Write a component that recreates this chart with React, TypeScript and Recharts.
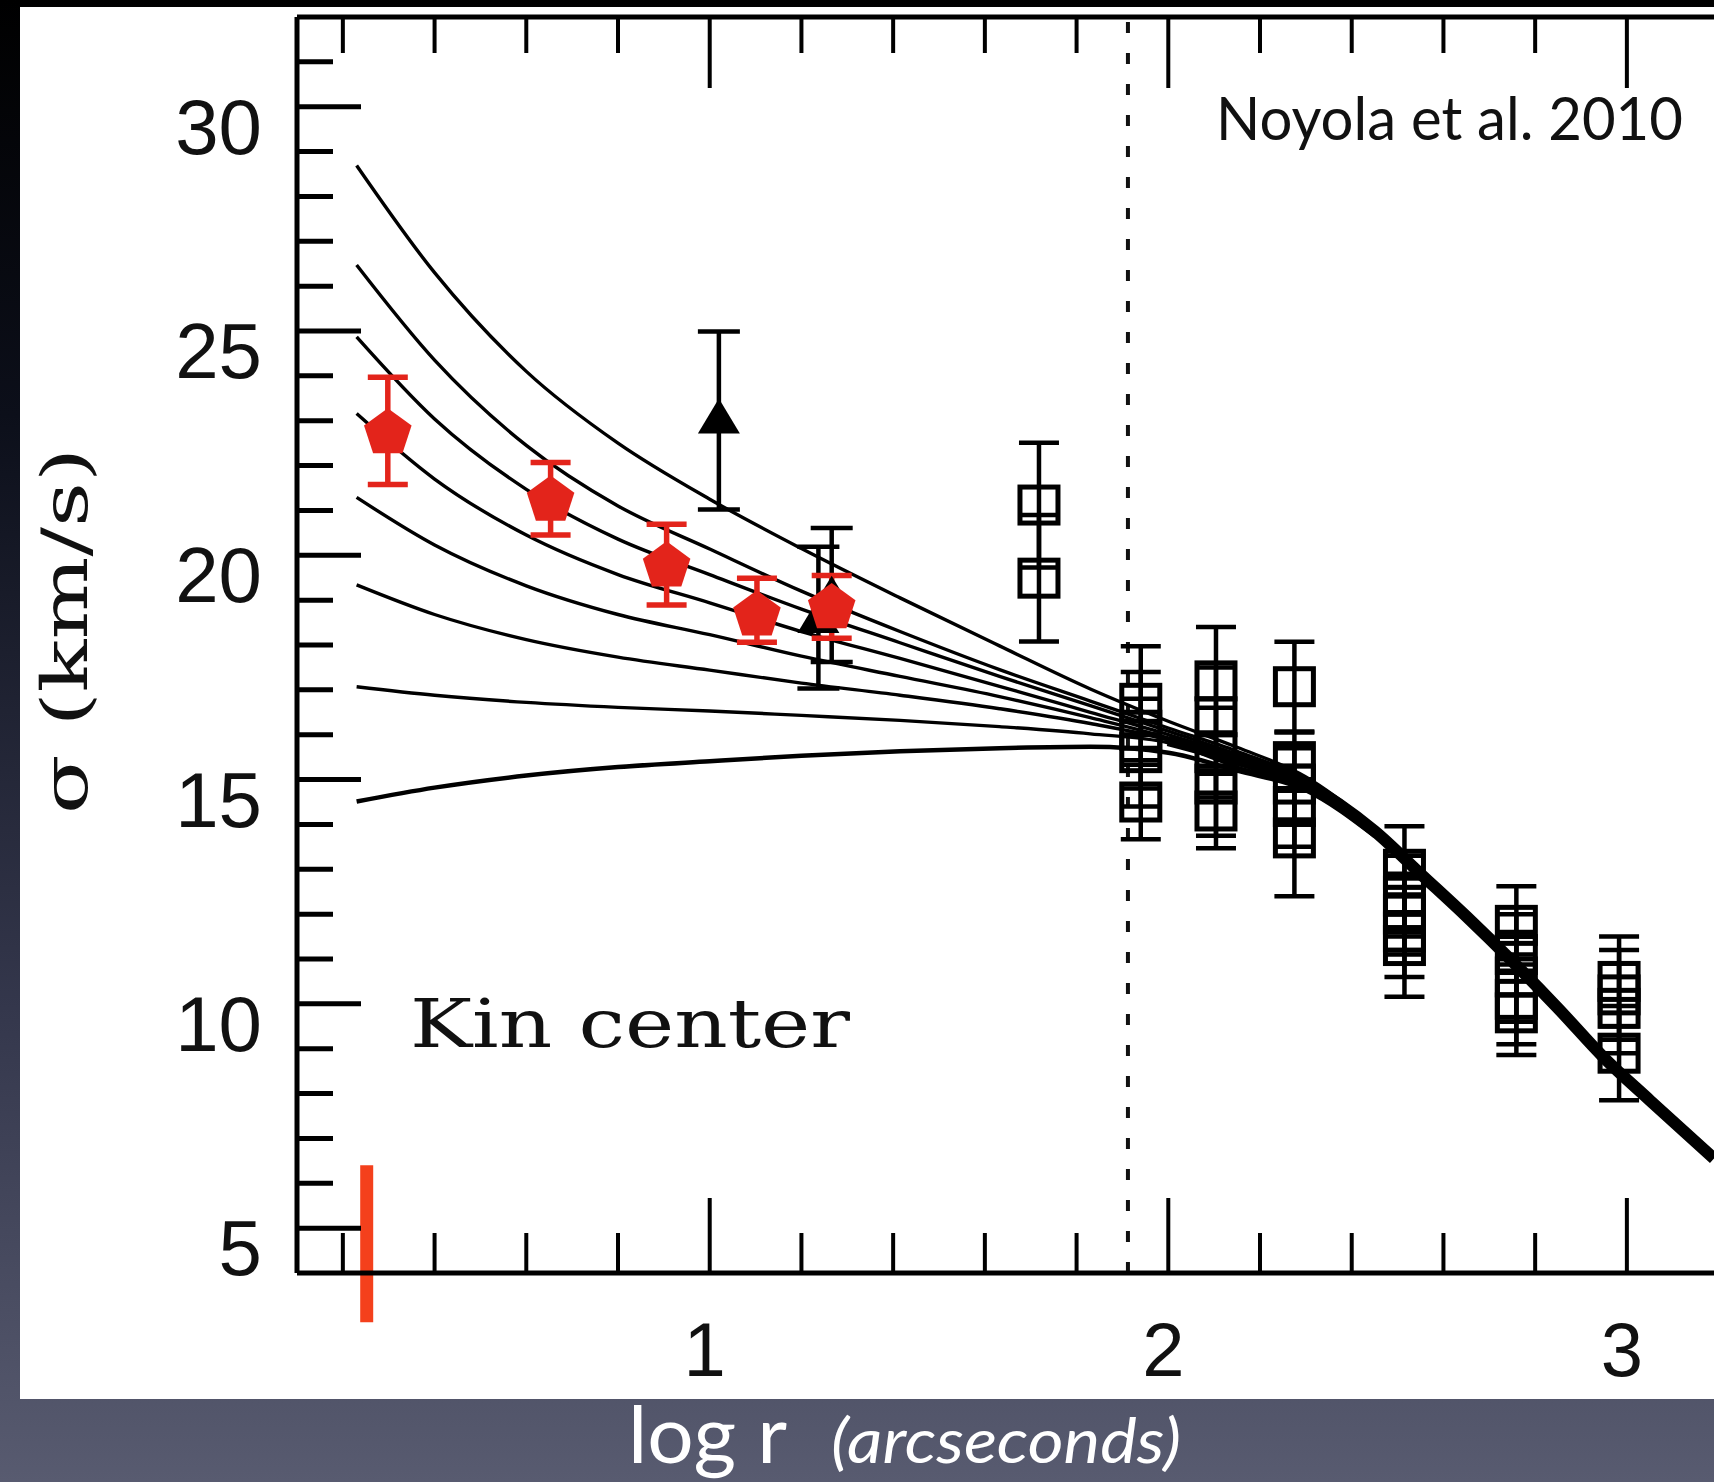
import React from "react";
import { ComposedChart, Line, Scatter, XAxis, YAxis, ErrorBar, ReferenceLine } from "recharts";

// --- model curves (sigma in km/s vs log r) ---
const curveX = [0.23, 0.4, 0.6, 0.8, 1.0, 1.2, 1.415, 1.632, 1.83, 2.0, 2.15, 2.3, 2.45];
const model1 = [28.69, 26.3, 24.1, 22.5, 21.25, 20.15, 19.05, 17.98, 17.02, 16.3, 15.72, 15.06, 13.95];
const model2 = [26.47, 24.35, 22.45, 21.1, 20.14, 19.2, 18.3, 17.45, 16.75, 16.15, 15.63, 15.01, 13.92];
const model3 = [24.87, 23.04, 21.47, 20.36, 19.57, 18.8, 18.05, 17.3, 16.65, 16.08, 15.56, 14.97, 13.89];
const model4 = [23.16, 21.7, 20.45, 19.57, 18.94, 18.3, 17.7, 17.08, 16.5, 16.0, 15.49, 14.93, 13.86];
const model5 = [21.29, 20.23, 19.32, 18.68, 18.23, 17.75, 17.3, 16.85, 16.38, 15.93, 15.42, 14.89, 13.83];
const model6 = [19.34, 18.68, 18.12, 17.73, 17.44, 17.15, 16.88, 16.58, 16.25, 15.88, 15.35, 14.85, 13.8];
const model7 = [17.07, 16.88, 16.72, 16.61, 16.53, 16.43, 16.32, 16.18, 16.02, 15.82, 15.28, 14.81, 13.77];
const model8 = [14.51, 14.82, 15.09, 15.28, 15.41, 15.53, 15.63, 15.7, 15.73, 15.6, 15.2, 14.76, 13.74];

// all models merge into one outer profile
const tailX = [2.0, 2.15, 2.3, 2.45, 2.55, 2.65, 2.75, 2.85, 2.95, 3.05, 3.19];
const tailY = [15.88, 15.45, 14.9, 13.85, 12.9, 11.95, 10.95, 9.9, 8.8, 7.85, 6.55];

// open squares (ground based)
const sqX = [1.718, 1.718, 1.94, 1.94, 1.94, 1.94, 2.104, 2.104, 2.104, 2.104, 2.104,
  2.275, 2.275, 2.275, 2.275, 2.275, 2.515, 2.515, 2.515, 2.515, 2.515,
  2.759, 2.759, 2.759, 2.759, 2.759, 2.983, 2.983, 2.983, 2.983];
const sqY = [21.12, 19.49, 16.7, 16.1, 15.6, 14.5, 17.2, 16.4, 15.6, 14.9, 14.3,
  17.07, 15.4, 14.9, 14.4, 13.7, 13.0, 12.4, 12.0, 11.6, 11.3,
  11.75, 11.1, 10.6, 10.1, 9.8, 10.5, 10.2, 9.9, 8.9];
const sqErr = [1.39, 1.41, 1.27, 1.3, 1.2, 0.83, 1.2, 1.1, 1.0, 1.15, 0.83,
  1.0, 0.65, 0.8, 0.9, 1.3, 0.96, 0.9, 0.9, 1.0, 1.14,
  0.87, 0.9, 1.0, 1.0, 0.94, 1.0, 1.0, 1.0, 1.05];

// red pentagons
const penX = [0.298, 0.653, 0.906, 1.103, 1.266];
const penY = [22.79, 21.29, 19.82, 18.73, 18.89];
const penLo = [1.21, 0.84, 0.93, 0.67, 0.74];
const penHi = [1.18, 0.78, 0.87, 0.76, 0.66];

// black triangles
const triX = [1.237, 1.266, 1.02];
const triY = [18.6, 19.1, 23.05];
const triLo = [1.57, 1.48, 2.03];
const triHi = [1.59, 1.51, 1.94];

const yTicks = [5, 6, 7, 8, 9, 10, 11, 12, 13, 14, 15, 16, 17, 18, 19, 20, 21, 22, 23, 24, 25, 26, 27, 28, 29, 30, 31];
const xTicks = [0.2, 0.4, 0.6, 0.8, 1, 1.2, 1.4, 1.6, 1.8, 2, 2.2, 2.4, 2.6, 2.8, 3];

const dividerX = 1.912;
const markX = 0.252;
const markY = [2.9, 6.4];

const models = [model1, model2, model3, model4, model5, model6, model7, model8];
const pts = (xs: number[], ys: number[]) => xs.map((x, i) => ({ x, y: ys[i] }));
const sqData = sqX.map((x, i) => ({ x, y: sqY[i], err: sqErr[i] }));
const penData = penX.map((x, i) => ({ x, y: penY[i], err: [penLo[i], penHi[i]] }));
const triData = triX.map((x, i) => ({ x, y: triY[i], err: [triLo[i], triHi[i]] }));

const isMajorX = (v: number) => Math.abs(v - Math.round(v)) < 1e-6;

const YTick = (p: any) => {
  const v = p.payload.value;
  const major = v % 5 === 0;
  return (
    <g>
      <line x1={p.x} y1={p.y} x2={p.x + (major ? 64 : 36)} y2={p.y} stroke="#000" strokeWidth={5} />
      {major && (
        <text x={p.x - 35} y={p.y + 20} textAnchor="end" dominantBaseline="central"
          fontFamily="Liberation Sans" fontSize={78} fill="#111">{v}</text>
      )}
    </g>
  );
};

const XTickBottom = (p: any) => {
  const v = p.payload.value;
  const major = isMajorX(v);
  return (
    <g>
      <line x1={p.x} y1={p.y} x2={p.x} y2={p.y - (major ? 75 : 40)} stroke="#000" strokeWidth={4} />
      {major && (
        <text x={p.x - 5} y={p.y + 76} textAnchor="middle" dominantBaseline="central"
          fontFamily="Liberation Sans" fontSize={76} fill="#111">{Math.round(v)}</text>
      )}
    </g>
  );
};

const XTickTop = (p: any) => {
  const major = isMajorX(p.payload.value);
  return <line x1={p.x} y1={p.y} x2={p.x} y2={p.y + (major ? 71 : 36)} stroke="#000" strokeWidth={4} />;
};

const Square = (p: any) => (
  <rect x={p.cx - 19} y={p.cy - 18} width={38} height={36} fill="none" stroke="#000" strokeWidth={5} />
);

const Triangle = (p: any) => (
  <polygon points={`${p.cx},${p.cy - 20} ${p.cx + 21},${p.cy + 15} ${p.cx - 21},${p.cy + 15}`} fill="#000" />
);

const Pentagon = (p: any) => {
  const r = 25;
  const pts = [0, 1, 2, 3, 4]
    .map((k) => {
      const a = ((-90 + 72 * k) * Math.PI) / 180;
      return `${p.cx + r * Math.cos(a)},${p.cy + 3 + r * Math.sin(a)}`;
    })
    .join(" ");
  return <polygon points={pts} fill="#e3241b" />;
};

export default function App() {
  return (
    <div
      style={{
        position: "absolute",
        left: 0,
        top: 0,
        width: 1714,
        height: 1482,
        overflow: "hidden",
        background: "linear-gradient(180deg, #000000 0%, #0c0f1a 28%, #34374c 68%, #585b70 100%)",
      }}
    >
      <div style={{ position: "absolute", left: 20, top: 7, width: 1694, height: 1392, background: "#fff" }}>
        <ComposedChart width={1694} height={1392} margin={{ top: 0, right: 0, bottom: 26, left: 77 }}>
          <XAxis type="number" dataKey="x" domain={[0.1, 3.19]} allowDataOverflow ticks={xTicks} interval={0}
            tick={XTickBottom} tickLine={false} tickSize={0} tickMargin={0} height={100}
            axisLine={{ stroke: "#000", strokeWidth: 5 }} />
          <XAxis xAxisId="top" orientation="top" type="number" dataKey="x" domain={[0.1, 3.19]} allowDataOverflow
            ticks={xTicks} interval={0} tick={XTickTop} tickLine={false} tickSize={0} tickMargin={0} height={10}
            axisLine={{ stroke: "#000", strokeWidth: 5 }} />
          <YAxis type="number" dataKey="y" domain={[4, 32]} allowDataOverflow ticks={yTicks} interval={0}
            tick={YTick} tickLine={false} tickSize={0} tickMargin={0} width={200}
            axisLine={{ stroke: "#000", strokeWidth: 5 }} />

          <ReferenceLine x={dividerX} stroke="#111" strokeWidth={4} strokeDasharray="11 20" />

          {models.map((m, i) => (
            <Line key={i} data={pts(curveX, m)} dataKey="y" type="monotone" stroke="#000"
              strokeWidth={i === 7 ? 4.5 : 3.4} dot={false} activeDot={false} isAnimationActive={false} />
          ))}
          <Line data={pts(tailX, tailY)} dataKey="y" type="monotone" stroke="#000" strokeWidth={12}
            dot={false} activeDot={false} isAnimationActive={false} />

          <Scatter data={sqData} dataKey="y" shape={Square} isAnimationActive={false}>
            <ErrorBar dataKey="err" direction="y" width={20} stroke="#000" strokeWidth={4.5} isAnimationActive={false} />
          </Scatter>
          <Scatter data={triData} dataKey="y" shape={Triangle} isAnimationActive={false}>
            <ErrorBar dataKey="err" direction="y" width={21} stroke="#000" strokeWidth={4.5} isAnimationActive={false} />
          </Scatter>
          <Scatter data={penData} dataKey="y" shape={Pentagon} isAnimationActive={false}>
            <ErrorBar dataKey="err" direction="y" width={20} stroke="#e3241b" strokeWidth={5.5} isAnimationActive={false} />
          </Scatter>

          <ReferenceLine
            segment={[{ x: markX, y: markY[0] }, { x: markX, y: markY[1] }]}
            stroke="#f4401c" strokeWidth={13} ifOverflow="visible"
          />
        </ComposedChart>
      </div>

      <svg width={1714} height={1482} style={{ position: "absolute", left: 0, top: 0, pointerEvents: "none" }}>
        <text x={1216} y={140} fontFamily="Lato" fontSize={60} fill="#111" textLength={467} lengthAdjust="spacingAndGlyphs">
          Noyola et al. 2010
        </text>
        <text x={410} y={1047} fontFamily="DejaVu Serif" fontSize={68} fill="#111" textLength={440} lengthAdjust="spacingAndGlyphs">
          Kin center
        </text>
        <text transform="translate(87,631) rotate(-90)" textAnchor="middle" fontFamily="DejaVu Serif" fontSize={64}
          fill="#111" textLength={366} lengthAdjust="spacingAndGlyphs">
          σ (km/s)
        </text>
        <text x={628} y={1463} fontFamily="Lato" fontSize={80} fill="#fff" textLength={159} lengthAdjust="spacingAndGlyphs">
          log r
        </text>
        <text x={831} y={1463} fontFamily="Lato" fontStyle="italic" fontSize={62} fill="#fff" textLength={350}
          lengthAdjust="spacingAndGlyphs">
          (arcseconds)
        </text>
      </svg>
    </div>
  );
}
